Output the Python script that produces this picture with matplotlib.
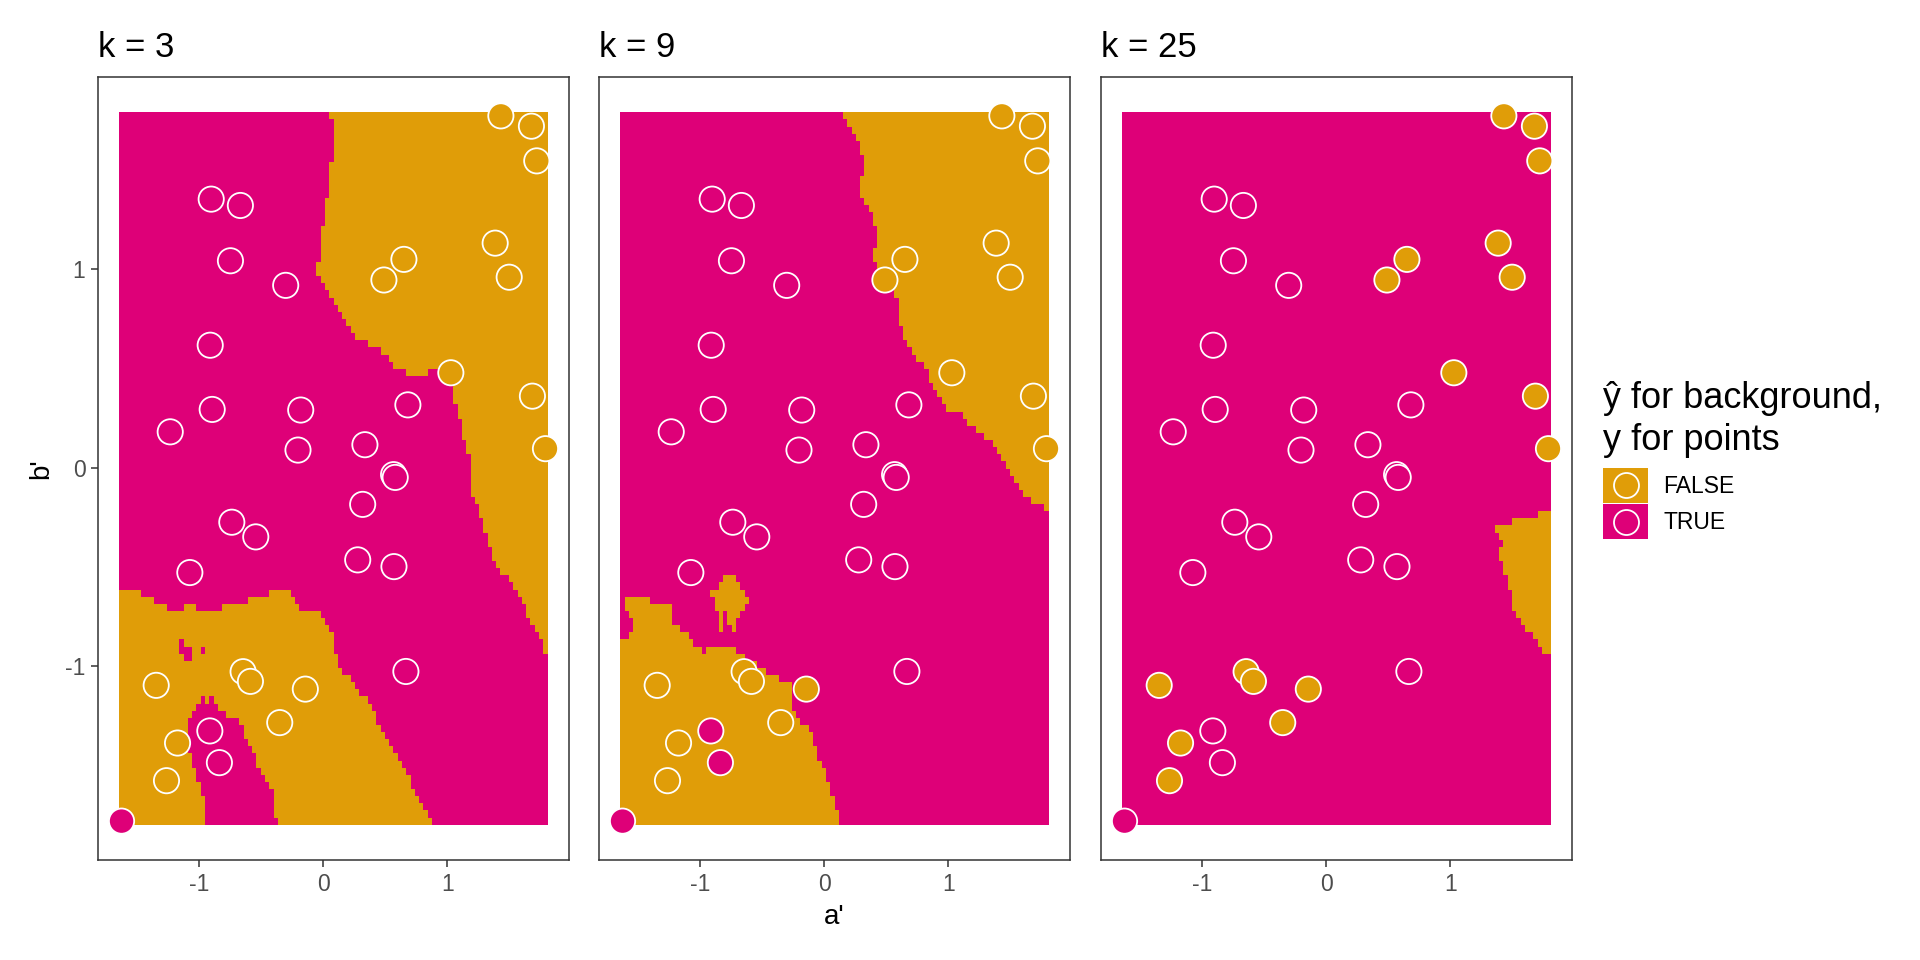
import numpy as np
import matplotlib.pyplot as plt
from matplotlib.colors import ListedColormap
from matplotlib.patches import Patch, Rectangle
from matplotlib.lines import Line2D

plt.rcParams['font.family'] = ['Liberation Sans', 'DejaVu Sans']

# geschaalde kenmerken (a', b') en klasse y van de trainingspunten
a_scaled = [1.430, 1.676, 1.719, -0.903, -0.668, 1.384, -0.748, 0.649, 0.488, -0.303,
            1.497, -0.911, 1.027, 1.684, -0.895, -1.233, -0.182, 0.681, 1.789, -0.204,
            0.335, 0.566, 0.579, 0.317, -0.737, -0.544, -1.075, 0.277, 0.569, 0.665,
            -1.346, -0.646, -0.587, -0.145, -0.351, -0.914, -1.174, -0.837, -1.263, -1.625]
b_scaled = [1.775, 1.723, 1.548, 1.355, 1.323, 1.133, 1.044, 1.051, 0.947, 0.920,
            0.961, 0.618, 0.479, 0.361, 0.294, 0.181, 0.291, 0.317, 0.096, 0.089,
            0.116, -0.035, -0.049, -0.185, -0.275, -0.349, -0.529, -0.465, -0.499, -1.028,
            -1.098, -1.029, -1.078, -1.117, -1.286, -1.328, -1.389, -1.488, -1.579, -1.783]
y_label = [False, False, False, True, True, False, True, False, False, True,
           False, True, False, False, True, True, True, True, False, True,
           True, True, True, True, True, True, True, True, True, True,
           False, False, False, False, False, True, False, True, False, True]

k_values = [3, 9, 25]
n_grid = 100
tick_vals = [-1, 0, 1]
class_names = ['FALSE', 'TRUE']

col_false = '#E09D08'
col_true = '#DE0078'
col_dark = '#333333'

a = np.array(a_scaled)
b = np.array(b_scaled)
y = np.array(y_label, dtype=float)


def knn_predict(xq, yq, k):
    d = (xq[:, None] - a[None, :]) ** 2 + (yq[:, None] - b[None, :]) ** 2
    idx = np.argsort(d, axis=1)[:, :k]
    return (y[idx].mean(axis=1) > 0.5).astype(float)


# legendasleutel: gevuld vierkant met punt erop, zoals ggplot
class KeyHandler:
    def legend_artist(self, legend, orig_handle, fontsize, handlebox):
        x0, y0 = -handlebox.xdescent, -handlebox.ydescent
        w, h = handlebox.width, handlebox.height
        c = orig_handle.get_facecolor()
        rect = Rectangle((x0, y0), w, h, facecolor=c, edgecolor='none',
                         transform=handlebox.get_transform())
        dot = Line2D([x0 + w / 2], [y0 + h / 2], marker='o', linestyle='none',
                     markersize=18, markerfacecolor=c, markeredgecolor='white',
                     markeredgewidth=1.3, transform=handlebox.get_transform())
        handlebox.add_artist(rect)
        handlebox.add_artist(dot)
        return rect


gx = np.linspace(a.min(), a.max(), n_grid)
gy = np.linspace(b.min(), b.max(), n_grid)
GX, GY = np.meshgrid(gx, gy)

# raster-extent + 5% marge zoals ggplot
dx = gx[1] - gx[0]
dy = gy[1] - gy[0]
x0, x1 = gx[0] - dx / 2, gx[-1] + dx / 2
y0, y1 = gy[0] - dy / 2, gy[-1] + dy / 2
xlim = (x0 - 0.05 * (x1 - x0), x1 + 0.05 * (x1 - x0))
ylim = (y0 - 0.05 * (y1 - y0), y1 + 0.05 * (y1 - y0))

cmap = ListedColormap([col_false, col_true])
point_cols = [col_true if v else col_false for v in y_label]

W, H = 1920, 960
fig = plt.figure(figsize=(W / 100, H / 100), dpi=100)
lefts = [98, 599, 1101]
pw = 471
top_px, bot_px = 76.7, 860.3

for i, k in enumerate(k_values):
    ax = fig.add_axes([lefts[i] / W, 1 - bot_px / H, pw / W, (bot_px - top_px) / H])
    Z = knn_predict(GX.ravel(), GY.ravel(), k).reshape(GX.shape)
    ax.pcolormesh(gx, gy, Z, cmap=cmap, vmin=0, vmax=1, shading='nearest',
                  antialiased=False, linewidth=0)
    ax.scatter(a, b, c=point_cols, s=330, edgecolors='white', linewidths=1.3,
               zorder=3, clip_on=False)
    ax.set_xlim(xlim)
    ax.set_ylim(ylim)
    ax.set_xticks(tick_vals)
    ax.set_xticklabels([str(t) for t in tick_vals])
    ax.tick_params(axis='both', direction='out', length=5, width=1.1, color=col_dark,
                   labelcolor='#4D4D4D', labelsize=16.5, pad=4)
    if i == 0:
        ax.set_yticks(tick_vals)
        ax.set_yticklabels([str(t) for t in tick_vals])
        ax.set_ylabel("b'", fontsize=20, labelpad=8)
    else:
        ax.set_yticks([])
    if i == 1:
        ax.set_xlabel("a'", fontsize=20, labelpad=6)
    for s in ax.spines.values():
        s.set_color(col_dark)
        s.set_linewidth(1.1)
    ax.set_title(f'k = {k}', loc='left', fontsize=25, pad=14)

# legenda
handles = [Patch(facecolor=c) for c in [col_false, col_true]]
fig.legend(handles, class_names, loc='upper left', bbox_to_anchor=(1603 / W, 1 - 468 / H),
           frameon=False, fontsize=16.5, handlelength=1.97, handleheight=1.97,
           handletextpad=0.65, labelspacing=0.06, borderpad=0, borderaxespad=0,
           handler_map={Patch: KeyHandler()})
fig.text(1603 / W, 1 - 450 / H, 'ŷ for background,\ny for points', fontsize=26,
         va='baseline', ha='left', linespacing=1.25)

fig.savefig('out.png', dpi=100, facecolor='white')
